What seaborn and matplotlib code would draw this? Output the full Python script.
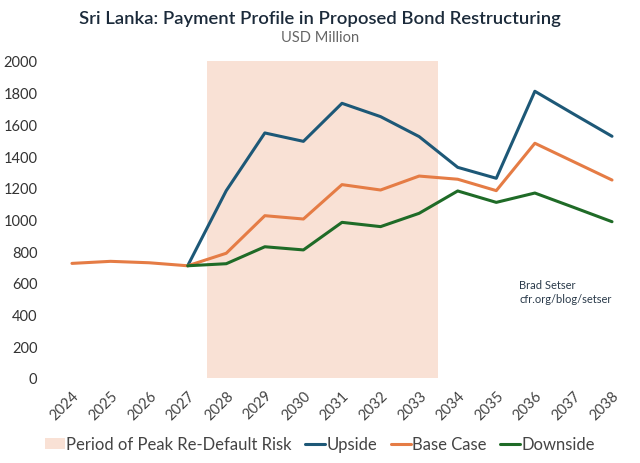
import numpy as np
import pandas as pd
import matplotlib
matplotlib.use("Agg")
import matplotlib.pyplot as plt
import seaborn as sns
from matplotlib.patches import Patch
from matplotlib.lines import Line2D

years = list(range(2024, 2039))
upside = [np.nan, np.nan, np.nan, 708, 1182, 1546, 1493, 1733, 1649, 1523, 1329, 1260, 1809, 1666, 1525]
base_case = [723, 736, 727, 708, 787, 1024, 1003, 1220, 1186, 1274, 1254, 1182, 1481, 1365, 1249]
downside = [np.nan, np.nan, np.nan, 708, 721, 828, 808, 982, 955, 1039, 1180, 1108, 1167, 1077, 986]
series_names = ["Upside", "Base Case", "Downside"]
risk_start, risk_end = 2027.5, 2033.5
risk_label = "Period of Peak Re-Default Risk"

colors = {"Upside": "#1d5877", "Base Case": "#e57c45", "Downside": "#1f6b27"}
shade_color = "#f9e1d5"

df = pd.DataFrame({"Year": years, "Upside": upside, "Base Case": base_case, "Downside": downside})
long = df.melt(id_vars="Year", value_vars=series_names, var_name="Scenario", value_name="Value").dropna()

sns.set_theme(style="white")
plt.rcParams["font.family"] = ["Lato", "DejaVu Sans"]

fig = plt.figure(figsize=(6.4, 4.64), dpi=100)
ax = fig.add_axes([0.0823, 0.1832, 0.9041, 0.6832])

ax.axvspan(risk_start, risk_end, color=shade_color, lw=0, zorder=0)
sns.lineplot(data=long, x="Year", y="Value", hue="Scenario", hue_order=series_names,
             palette=colors, linewidth=2.2, ax=ax, legend=False, zorder=3)

ax.set_xlim(2023.5, 2038.5)
ax.set_ylim(0, 2000)
ax.set_yticks(range(0, 2001, 200))
ax.set_xticks(years)
ax.set_xticklabels([str(y) for y in years], rotation=45, ha="right", rotation_mode="anchor",
                   fontsize=10.5, color="#444444")
ax.tick_params(axis="y", labelsize=10.5, labelcolor="#333333", pad=11, length=0)
ax.tick_params(axis="x", pad=7, length=0)
ax.set_xlabel("")
ax.set_ylabel("")
for s in ax.spines.values():
    s.set_visible(False)
ax.grid(False)

fig.text(0.5, 0.958, "Sri Lanka: Payment Profile in Proposed Bond Restructuring",
         ha="center", va="center", fontsize=13.3, fontweight="semibold", color="#1b2a3a")
fig.text(0.5, 0.918, "USD Million", ha="center", va="center", fontsize=10.5, color="#666666")

ax.text(0.811, 0.397, "Brad Setser\ncfr.org/blog/setser", transform=fig.transFigure,
        fontsize=8, color="#2a3a4a", va="top", ha="left", linespacing=1.4)

handles = [Patch(facecolor=shade_color, edgecolor="none", label=risk_label)]
handles += [Line2D([0], [0], color=colors[n], lw=2.2, label=n) for n in series_names]
fig.legend(handles=handles, loc="center", bbox_to_anchor=(0.5, 0.04), ncol=4, frameon=False,
           fontsize=12, handlelength=1.2, handletextpad=0.1, columnspacing=0.8,
           labelcolor="#444444")

fig.savefig("out.png", dpi=100)
